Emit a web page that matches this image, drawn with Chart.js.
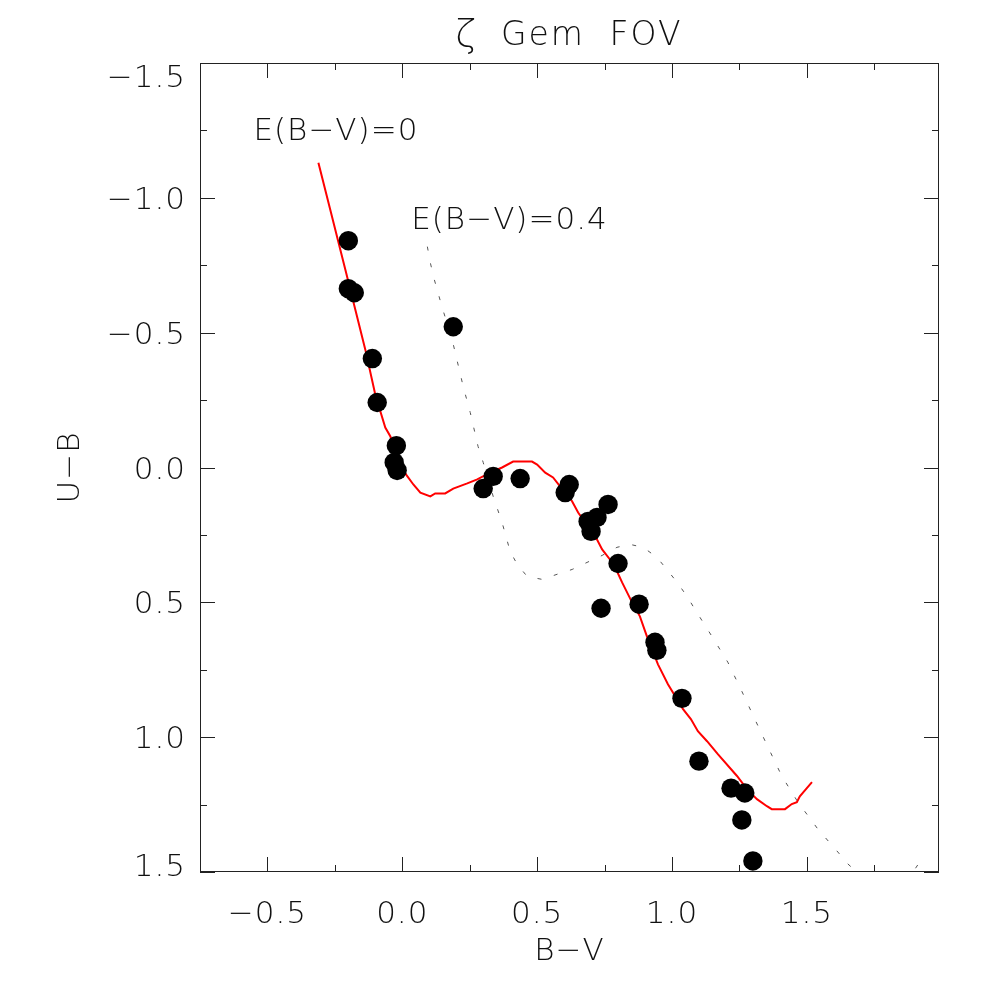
<!DOCTYPE html>
<html>
<head>
<meta charset="utf-8">
<title>ζ Gem FOV</title>
<script src="https://cdn.jsdelivr.net/npm/chart.js@4"></script>
<style>
  html, body { margin: 0; padding: 0; background: #fff; }
  #wrap { width: 999px; height: 999px; }
</style>
</head>
<body>
<div id="wrap"><canvas id="cmd"></canvas></div>
<script>
// Observed stars in the field (B-V, U-B)
const starBV = [-0.200, -0.200, -0.178, -0.111, -0.093, -0.022, -0.030, -0.019, 0.189,
                0.300, 0.337, 0.437, 0.604, 0.619, 0.689, 0.722, 0.700, 0.763, 0.800,
                0.737, 0.878, 0.937, 0.944, 1.037, 1.100, 1.219, 1.270, 1.259, 1.300];
const starUB = [-0.841, -0.663, -0.648, -0.404, -0.241, -0.081, -0.019, 0.011, -0.522,
                0.078, 0.033, 0.041, 0.093, 0.063, 0.200, 0.185, 0.237, 0.137, 0.356,
                0.522, 0.507, 0.648, 0.678, 0.856, 1.089, 1.189, 1.207, 1.307, 1.459];

// Intrinsic main sequence, E(B-V)=0
const zamsBV = [-0.311, -0.267, -0.211, -0.174, -0.137, -0.100, -0.063, -0.044, -0.033, -0.007,
                0.019, 0.041, 0.067, 0.104, 0.122, 0.159, 0.189, 0.241, 0.278, 0.326,
                0.370, 0.411, 0.481, 0.500, 0.530, 0.559, 0.585, 0.604, 0.630, 0.652,
                0.696, 0.722, 0.741, 0.770, 0.796, 0.815, 0.852, 0.881, 0.907, 0.948,
                0.985, 1.041, 1.070, 1.096, 1.130, 1.170, 1.241, 1.278, 1.315, 1.352, 1.370, 1.419,
                1.444, 1.463, 1.474, 1.519];
const zamsUB = [-1.130, -0.956, -0.733, -0.585, -0.437, -0.270, -0.148, -0.115, -0.078, -0.004,
                0.033, 0.063, 0.093, 0.107, 0.096, 0.096, 0.078, 0.059, 0.044, 0.019,
                0.000, -0.022, -0.022, -0.011, 0.019, 0.037, 0.070, 0.089, 0.126, 0.167,
                0.230, 0.267, 0.304, 0.341, 0.385, 0.426, 0.500, 0.552, 0.626, 0.730,
                0.804, 0.896, 0.933, 0.978, 1.015, 1.063, 1.144, 1.193, 1.230, 1.256, 1.267, 1.267,
                1.248, 1.241, 1.219, 1.167];

// Reddened main sequence, E(B-V)=0.4
const redBV = [0.093, 0.104, 0.119, 0.148, 0.185, 0.226, 0.252, 0.281, 0.300, 0.337,
               0.370, 0.400, 0.426, 0.463, 0.519, 0.574, 0.630, 0.685, 0.741, 0.796,
               0.844, 0.893, 0.944, 0.981, 1.019, 1.056, 1.085, 1.148, 1.207, 1.259,
               1.307, 1.356, 1.407, 1.467, 1.541, 1.615, 1.652, 1.733, 1.826, 1.881, 1.911];
const redUB = [-0.819, -0.759, -0.696, -0.593, -0.474, -0.300, -0.204, -0.078, -0.019, 0.107,
               0.204, 0.311, 0.359, 0.404, 0.415, 0.396, 0.378, 0.352, 0.326, 0.296,
               0.285, 0.296, 0.333, 0.378, 0.426, 0.478, 0.526, 0.626, 0.722, 0.830,
               0.933, 1.037, 1.144, 1.241, 1.341, 1.426, 1.470, 1.544, 1.563, 1.519, 1.474];

const xTicks = [-0.5, 0.0, 0.5, 1.0, 1.5];
const xMinor = [-0.25, 0.25, 0.75, 1.25, 1.75];
const yTicks = [-1.5, -1.0, -0.5, 0.0, 0.5, 1.0, 1.5];
const yMinor = [-1.25, -0.75, -0.25, 0.25, 0.75, 1.25];
const titleParts = ['\u03B6', 'Gem', 'FOV'];

const FAMILY = '"DejaVu Sans", "Lato", sans-serif';
const FONT = '200 31px ' + FAMILY;

function toPoints(xs, ys) {
    return xs.map((v, i) => ({ x: v, y: ys[i] }));
}

function fmt(v) {
    return v.toFixed(1).replace('-', '\u2212');
}

// IDL-style box frame with inward ticks
const boxAxes = {
    id: 'boxAxes',
    beforeDatasetsDraw(chart) {
        const { ctx, chartArea: a, scales: { x, y } } = chart;
        ctx.save();
        ctx.strokeStyle = '#222';
        ctx.lineWidth = 1;
        ctx.strokeRect(a.left + 0.5, a.top + 0.5, a.right - a.left - 1, a.bottom - a.top - 1);
        ctx.beginPath();
        const xt = (v, len) => {
            const px = Math.round(x.getPixelForValue(v)) + 0.5;
            ctx.moveTo(px, a.bottom); ctx.lineTo(px, a.bottom - len);
            ctx.moveTo(px, a.top); ctx.lineTo(px, a.top + len);
        };
        const yt = (v, len) => {
            const py = Math.round(y.getPixelForValue(v)) + 0.5;
            ctx.moveTo(a.left, py); ctx.lineTo(a.left + len, py);
            ctx.moveTo(a.right, py); ctx.lineTo(a.right - len, py);
        };
        xTicks.forEach(v => xt(v, 15));
        xMinor.forEach(v => xt(v, 7));
        yTicks.forEach(v => yt(v, 15));
        yMinor.forEach(v => yt(v, 7));
        ctx.stroke();
        ctx.restore();
    },
    afterDraw(chart) {
        const { ctx, chartArea: a, scales: { x, y } } = chart;
        ctx.save();
        ctx.fillStyle = '#111';
        ctx.font = FONT;
        ctx.letterSpacing = '1px';

        // x tick labels
        ctx.textAlign = 'center';
        ctx.textBaseline = 'alphabetic';
        xTicks.forEach(v => ctx.fillText(fmt(v), x.getPixelForValue(v), 923));

        // y tick labels, edge ones nudged inside like IDL
        ctx.textAlign = 'right';
        yTicks.forEach(v => {
            let py = y.getPixelForValue(v);
            py = Math.min(Math.max(py, a.top + 13), a.bottom - 7);
            ctx.fillText(fmt(v), a.left - 14, py + 11);
        });

        // axis titles
        ctx.textAlign = 'center';
        ctx.fillText('B\u2212V', (a.left + a.right) / 2, 960);
        ctx.save();
        ctx.translate(79, (a.top + a.bottom) / 2);
        ctx.rotate(-Math.PI / 2);
        ctx.fillText('U\u2212B', 0, 0);
        ctx.restore();

        // title, spaced out as in the IDL original
        ctx.font = '200 38px ' + FAMILY;
        ctx.fillText(titleParts[0], 466, 46);
        ctx.font = '200 33px ' + FAMILY;
        ctx.letterSpacing = '2px';
        ctx.fillText(titleParts[1], 543, 45);
        ctx.fillText(titleParts[2], 646, 45);

        // curve labels
        ctx.font = FONT;
        ctx.letterSpacing = '1px';
        ctx.textAlign = 'left';
        ctx.fillText('E(B\u2212V)=0', x.getPixelForValue(-0.552), y.getPixelForValue(-1.215));
        ctx.fillText('E(B\u2212V)=0.4', x.getPixelForValue(0.033), y.getPixelForValue(-0.885));
        ctx.restore();
    }
};

new Chart(document.getElementById('cmd'), {
    type: 'scatter',
    data: {
        datasets: [
            {
                label: 'stars',
                data: toPoints(starBV, starUB),
                backgroundColor: '#000',
                borderWidth: 0,
                pointRadius: 9.7,
                order: 0
            },
            {
                label: 'E(B-V)=0',
                data: toPoints(zamsBV, zamsUB),
                showLine: true,
                borderColor: '#ff0000',
                borderWidth: 2,
                pointRadius: 0,
                tension: 0,
                order: 1
            },
            {
                label: 'E(B-V)=0.4',
                data: toPoints(redBV, redUB),
                showLine: true,
                borderColor: '#555',
                borderWidth: 1,
                borderDash: [4, 13],
                pointRadius: 0,
                tension: 0,
                clip: 0,
                order: 2
            }
        ]
    },
    options: {
        responsive: true,
        maintainAspectRatio: false,
        animation: false,
        events: [],
        layout: { padding: { left: 200, right: 60, top: 63, bottom: 127 } },
        plugins: {
            legend: { display: false },
            tooltip: { enabled: false }
        },
        scales: {
            x: { type: 'linear', min: -0.75, max: 1.99, display: false },
            y: { type: 'linear', min: -1.5, max: 1.5, reverse: true, display: false }
        }
    },
    plugins: [boxAxes]
});
</script>
</body>
</html>
